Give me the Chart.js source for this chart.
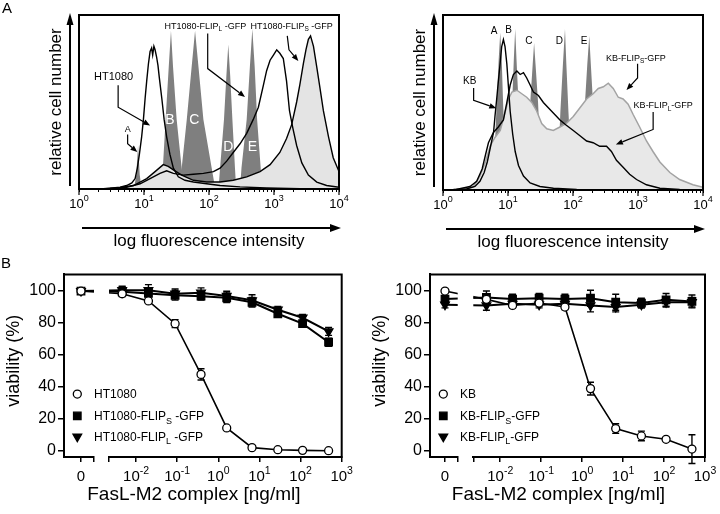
<!DOCTYPE html>
<html lang="en">
<head>
<meta charset="UTF-8">
<title>FLIP-GFP expression and FasL-M2 sensitivity</title>
<script src="https://cdn.jsdelivr.net/npm/chart.js"></script>
<style>
    body { margin: 0; padding: 0; background: #fff; }
    #fig { position: relative; width: 720px; height: 514px; overflow: hidden; font-family: "Liberation Sans", Arial, Helvetica, sans-serif; }
    #fig canvas { position: absolute; }
    .letter { position: absolute; font-size: 15px; line-height: 15px; color: #000; }
</style>
</head>
<body>
<div id="fig">
    <canvas id="histHT" width="360" height="260" style="left:0;top:0"></canvas>
    <canvas id="histKB" width="360" height="260" style="left:360px;top:0"></canvas>
    <canvas id="doseHT" width="360" height="254" style="left:0;top:260px"></canvas>
    <canvas id="doseKB" width="360" height="254" style="left:360px;top:260px"></canvas>
    <div class="letter" style="left:2px;top:0">A</div>
    <div class="letter" style="left:1px;top:255px">B</div>
</div>
<script>
const FONT = '"Liberation Sans", Arial, Helvetica, sans-serif';

// ---- histograms: [fluorescence, relative cell number] ----
const histTicks = [1, 10, 100, 1000, 10000];
const histExp = ['0', '1', '2', '3', '4'];

const htParent = [[2.1,0],[3,0.5],[4.3,1],[5.4,2],[6.5,3.5],[7.3,6],[7.9,12],[8.5,20],[9.2,30],[9.8,40],[10.4,52],[11,62],[11.7,72],[12.4,79],[13.1,81],[13.6,77],[14.2,82],[14.8,80],[15.6,76],[16.4,71],[17.2,64],[18.8,52],[20.4,40],[22.3,30],[25,20],[28.3,12],[33.7,7],[42.7,5],[57.5,4],[92,3],[148,2],[300,1.2],[770,0.6],[2500,0.2],[10000,0]];
const htFlipL = [[1.66,0],[3,0.3],[5.4,1],[8.7,3],[12.4,6],[17.6,9],[22.3,10.5],[28.3,9],[40.3,8],[57.5,8.5],[82,9],[117,10],[148,12],[187,16],[236,21],[300,26],[380,32],[480,40],[575,47],[690,60],[770,68],[870,74],[980,77],[1100,80],[1230,78],[1390,75],[1560,62],[1730,45],[1950,35],[2230,25],[2680,15],[3380,8],[4550,4],[6450,2],[10000,1]];
const htFlipS = [[2.1,0],[3.8,0.5],[6.9,2],[11,6],[14.8,10],[19.8,14],[23.6,13],[28.3,11],[38,8],[57.5,5],[92,4],[148,4],[236,5],[380,7],[610,10],[870,14],[1230,21],[1560,29],[1870,37],[2230,50],[2500,60],[2830,72],[3100,80],[3380,86],[3650,88],[4050,82],[4550,70],[5100,58],[5750,45],[6900,30],[8150,18],[10000,10]];
const htBeadA = [[7,0],[7.6,8],[8.1,25],[8.6,8],[9.2,0]];
const htBeadB = [[18.5,0],[19.5,12],[21.5,40],[24,70],[26,91],[28,70],[31.8,40],[38,12],[42,0]];
const htBeadC = [[36,0],[38,12],[45.5,40],[54,70],[61,91],[69,70],[82,40],[110,12],[125,0]];
const htBeadD = [[140,0],[148,12],[170,40],[185,65],[198,83],[212,65],[229,40],[251,12],[262,0]];
const htBeadE = [[300,0],[316,12],[380,40],[425,70],[464,92],[505,70],[550,40],[624,12],[650,0]];

const kbParent = [[1.45,0.3],[2.3,0.6],[3.1,2],[3.7,5],[4.3,10],[4.8,16],[5.4,25],[6,33],[6.3,42],[6.7,52],[7.1,62],[7.6,73],[8,82],[8.5,86],[9,82],[9.6,72],[10.2,58],[10.8,45],[11.8,32],[12.9,22],[14.5,14],[17.3,8],[21.9,4],[31,2],[50,1],[114,0.3],[10000,0]];
const kbFlipL = [[1.6,0.3],[2.6,2],[3.3,5],[4,12],[4.5,20],[5,27],[6,33],[7.1,36],[8.5,40],[9.6,50],[10.8,60],[12.1,66],[13.7,68],[15.4,66],[17.3,67],[19.4,64],[21.9,60],[24.6,56],[29.4,54],[35,50],[41.7,47],[49.8,44],[63,40],[79,37],[101,34],[128,31],[162,28],[204,27],[257,25],[328,25],[390,22],[466,17],[590,13],[744,9],[950,6],[1350,3],[2170,1],[4370,0.3],[10000,0]];
const kbFlipS = [[1.8,0.3],[2.95,2],[3.7,8],[4.5,16],[5.3,25],[6.3,30],[7.6,34],[9.1,45],[10.2,52],[11.5,56],[13.7,57],[16.3,55],[19.4,53],[23.2,50],[27.7,45],[33,38],[39.5,35],[49.8,34],[63,36],[79,38],[101,42],[128,47],[162,52],[204,55],[245,58],[293,59],[349,61],[416,58],[497,53],[590,52],[705,49],[846,43],[1060,36],[1350,28],[1700,22],[2170,16],[3090,10],[4370,6],[7000,3],[10000,1.5]];
const kbBeadA = [[5.6,0],[6.2,20],[6.7,50],[7.2,75],[7.6,90],[8,75],[8.4,50],[9,20],[9.8,0]];
const kbBeadB = [[10,0],[10.8,20],[11.6,50],[12.3,75],[12.9,92],[13.5,75],[14.5,50],[15.6,20],[17,0]];
const kbBeadC = [[19,0],[20.5,20],[22,50],[24,72],[25.2,84],[26.5,72],[29,50],[31.5,20],[34,0]];
const kbBeadD = [[56,0],[60,20],[64,45],[70,72],[75.3,92],[79,72],[85,45],[92,20],[100,0]];
const kbBeadE = [[130,0],[142,20],[153,50],[166,72],[178,88],[188,72],[203,50],[220,20],[240,0]];

// ---- viability: FasL-M2 complex [ng/ml] ----
const conc = [0.0046, 0.020, 0.089, 0.38, 1.6, 6.6, 28, 112, 480];
const doseTicks = [0.01, 0.1, 1, 10, 100, 1000];
const doseExp = ['-2', '-1', '0', '1', '2', '3'];

const htVia = [98.3, 93.8, 79.6, 47.9, 14.4, 2.1, 0.8, 0.4, 0.2];
const htErr = [1, 1, 2.5, 3.5, 1, 0.5, 0.5, 0.5, 0.5];
const htSVia = [99.5, 98.5, 97.3, 96.8, 95.8, 93, 85.8, 79.6, 68];
const htSErr = [3, 3, 3, 2.5, 3, 3, 2, 2, 2.5];
const htLVia = [100.5, 100.5, 98.3, 99, 96.9, 94.2, 88.3, 83.3, 74.8];
const htLErr = [2.5, 3.5, 3, 3, 3, 3.5, 2, 2, 2.5];
const htZero = [100, 100, 100];   // HT1080, FLIP_S, FLIP_L without ligand
const htZeroErr = [1, 1, 1];

const kbVia = [94.8, 91, 92.5, 90, 39, 14, 9.4, 7.3, 1.2];
const kbErr = [2, 1.5, 2, 1.5, 4, 3, 3, 1, 9];
const kbSVia = [96, 95, 95.5, 95, 95.5, 93, 92.5, 94.5, 93.5];
const kbSErr = [4, 3, 3, 3, 5, 5, 3, 4, 4];
const kbLVia = [91, 92, 91.5, 92, 91, 90, 91.5, 93, 93];
const kbLErr = [3, 2, 2, 2, 4, 3, 2, 3, 3];
const kbZero = [100, 95, 91.5];
const kbZeroErr = [1, 2, 2];

Chart.defaults.font.family = FONT;
Chart.defaults.color = '#000';

function runs(ctx, parts, x, y, align, color) {
    ctx.save();
    ctx.fillStyle = color || '#000';
    ctx.textAlign = 'left';
    ctx.textBaseline = 'alphabetic';
    let w = 0;
    parts.forEach(p => { ctx.font = p[1] + 'px ' + FONT; w += ctx.measureText(p[0]).width; });
    let cx = align === 'center' ? x - w / 2 : x;
    const base = y + parts[0][1] * 0.36;
    parts.forEach(p => {
        ctx.font = p[1] + 'px ' + FONT;
        ctx.fillText(p[0], cx, base + (p[2] || 0));
        cx += ctx.measureText(p[0]).width;
    });
    ctx.restore();
}

function arrow(ctx, pts, len, half, lw) {
    ctx.save();
    ctx.lineWidth = lw;
    ctx.strokeStyle = '#000';
    ctx.fillStyle = '#000';
    const n = pts.length;
    const [x1, y1] = pts[n - 2], [x2, y2] = pts[n - 1];
    const a = Math.atan2(y2 - y1, x2 - x1);
    const bx = x2 - len * Math.cos(a), by = y2 - len * Math.sin(a);
    ctx.beginPath();
    ctx.moveTo(pts[0][0], pts[0][1]);
    for (let i = 1; i < n - 1; i++) ctx.lineTo(pts[i][0], pts[i][1]);
    ctx.lineTo(bx, by);
    ctx.stroke();
    ctx.beginPath();
    ctx.moveTo(x2, y2);
    ctx.lineTo(bx + half * Math.sin(a), by - half * Math.cos(a));
    ctx.lineTo(bx - half * Math.sin(a), by + half * Math.cos(a));
    ctx.closePath();
    ctx.fill();
    ctx.restore();
}

function histDecor(labels, arrows) {
    return {
        id: 'histDecor',
        afterDraw(chart) {
            const ctx = chart.ctx, a = chart.chartArea, xs = chart.scales.x, ys = chart.scales.y;
            ctx.save();
            ctx.strokeStyle = '#000';
            ctx.lineWidth = 2;
            ctx.strokeRect(a.left, a.top, a.right - a.left, a.bottom - a.top);
            ctx.lineWidth = 1.2;
            histTicks.forEach((v, i) => {
                const x = xs.getPixelForValue(v);
                ctx.beginPath();
                ctx.moveTo(x, a.bottom);
                ctx.lineTo(x, a.bottom + 6);
                ctx.stroke();
                runs(ctx, [['10', 13], [histExp[i], 9, -6.5]], x, a.bottom + 14, 'center');
            });
            arrow(ctx, [[a.left - 9, a.bottom - 3], [a.left - 9, a.top - 2]], 12, 3.5, 2);
            arrow(ctx, [[a.left + 3, a.bottom + 39], [a.right + 2, a.bottom + 39]], 11, 4, 2);
            runs(ctx, [['log fluorescence intensity', 17]], (a.left + a.right) / 2, a.bottom + 51, 'center');
            ctx.translate(a.left - 24, (a.top + a.bottom) / 2);
            ctx.rotate(-Math.PI / 2);
            runs(ctx, [['relative cell number', 17]], 0, 0, 'center');
            ctx.restore();
            arrows.forEach(p => arrow(ctx, p.map(q => [xs.getPixelForValue(q[0]), ys.getPixelForValue(q[1])]), 7, 2.8, 1.2));
            labels.forEach(l => runs(ctx, l.runs, xs.getPixelForValue(l.at[0]), ys.getPixelForValue(l.at[1]), 'center', l.color));
        }
    };
}

function curve(points, color, fill, width) {
    return {
        data: points.map(p => ({ x: p[0], y: p[1] })),
        borderColor: color,
        borderWidth: width,
        backgroundColor: fill || 'transparent',
        fill: fill ? 'origin' : false,
        pointRadius: 0,
        tension: 0
    };
}

function histChart(id, datasets, pad, axisHeight, labels, arrows) {
    new Chart(document.getElementById(id), {
        type: 'line',
        data: { datasets: datasets },
        options: {
            responsive: false,
            animation: false,
            layout: { padding: pad },
            plugins: { legend: { display: false }, tooltip: { enabled: false } },
            scales: {
                x: {
                    type: 'logarithmic', min: 1, max: 10000,
                    afterBuildTicks: s => {
                        const t = [];
                        for (let e = 0; e < 4; e++) for (let m = 1; m < 10; m++) t.push({ value: m * Math.pow(10, e) });
                        t.push({ value: 10000 });
                        s.ticks = t;
                    },
                    afterFit: s => { s.height = axisHeight; },
                    grid: { drawOnChartArea: false, drawTicks: true, tickLength: 3, color: '#000', lineWidth: 1 },
                    border: { display: false },
                    ticks: { display: false, autoSkip: false }
                },
                y: { display: false, min: 0, max: 100 }
            }
        },
        plugins: [histDecor(labels, arrows)]
    });
}

const BEAD = '#7f7f7f';
const sub = (a, s, b) => [[a, 9], [s, 6.5, 2.5], [b, 9]];

histChart('histHT', [
    curve(htParent, '#000', null, 1.4),
    curve(htFlipL, '#000', null, 1.4),
    curve(htFlipS, '#000', '#e4e4e4', 1.4),
    curve(htBeadA, BEAD, BEAD, 0),
    curve(htBeadB, BEAD, BEAD, 0),
    curve(htBeadC, BEAD, BEAD, 0),
    curve(htBeadD, BEAD, BEAD, 0),
    curve(htBeadE, BEAD, BEAD, 0)
], { left: 79, right: 21, top: 15, bottom: 0 }, 71, [
    { runs: [['HT1080', 11]], at: [3.4, 65] },
    { runs: [['A', 9]], at: [5.6, 34.6] },
    { runs: sub('HT1080-FLIP', 'L', ' -GFP'), at: [88, 94] },
    { runs: sub('HT1080-FLIP', 'S', ' -GFP'), at: [1870, 94] },
    { runs: [['B', 14]], at: [25.1, 40.4], color: '#fff' },
    { runs: [['C', 14]], at: [59.5, 40.4], color: '#fff' },
    { runs: [['D', 14]], at: [199, 24.6], color: '#fff' },
    { runs: [['E', 14]], at: [465, 24.6], color: '#fff' }
], [
    [[4.0, 59.6], [4.0, 47], [12.4, 36.5]],
    [[5.6, 31.3], [5.6, 26], [7.9, 21.2]],
    [[95.5, 89.4], [95.5, 69.2], [358, 52.9]],
    [[1600, 88], [1700, 80], [2370, 73.5]]
]);

histChart('histKB', [
    curve(kbParent, '#000', null, 1.4),
    curve(kbFlipL, '#000', null, 1.4),
    curve(kbFlipS, '#a3a3a3', '#e8e8e8', 1.5),
    curve(kbBeadA, BEAD, BEAD, 0),
    curve(kbBeadB, BEAD, BEAD, 0),
    curve(kbBeadC, BEAD, BEAD, 0),
    curve(kbBeadD, BEAD, BEAD, 0),
    curve(kbBeadE, BEAD, BEAD, 0)
], { left: 83, right: 17, top: 15, bottom: 0 }, 70, [
    { runs: [['A', 10]], at: [6.1, 91] },
    { runs: [['B', 10]], at: [10.2, 91.7] },
    { runs: [['C', 10]], at: [21, 85.6] },
    { runs: [['D', 10]], at: [61.7, 85.6] },
    { runs: [['E', 10]], at: [148, 85.6] },
    { runs: [['KB', 10]], at: [2.57, 62.5] },
    { runs: sub('KB-FLIP', 'S', '-GFP'), at: [930, 75.6] },
    { runs: sub('KB-FLIP', 'L', '-GFP'), at: [2440, 48.7] }
], [
    [[2.96, 58.3], [2.96, 51.3], [6.6, 46.7]],
    [[985, 72.1], [985, 64], [665, 57.1]],
    [[1710, 44.6], [1710, 34.6], [457, 26]]
]);

// ---- viability panels ----
const MARK = {
    circle: { pointStyle: 'circle', radius: 4, rotation: 0, fill: '#fff' },
    square: { pointStyle: 'rect', radius: 5.3, rotation: 0, fill: '#000' },
    triangle: { pointStyle: 'triangle', radius: 5, rotation: 180, fill: '#000' }
};

function drawMark(ctx, m, x, y) {
    ctx.save();
    ctx.fillStyle = m.fill;
    ctx.strokeStyle = '#000';
    ctx.lineWidth = 1.3;
    ctx.beginPath();
    if (m.pointStyle === 'circle') {
        ctx.arc(x, y, m.radius, 0, Math.PI * 2);
    } else if (m.pointStyle === 'rect') {
        const s = m.radius * Math.SQRT1_2;
        ctx.rect(x - s, y - s, 2 * s, 2 * s);
    } else {
        const r = m.radius;
        ctx.moveTo(x, y + r);
        ctx.lineTo(x - r * 0.866, y - r * 0.5);
        ctx.lineTo(x + r * 0.866, y - r * 0.5);
        ctx.closePath();
    }
    ctx.fill();
    ctx.stroke();
    ctx.restore();
}

function doseDecor(series, legendY) {
    return {
        id: 'doseDecor',
        beforeDatasetsDraw(chart) {
            const ctx = chart.ctx, a = chart.chartArea, xs = chart.scales.x, xz = chart.scales.xz, ys = chart.scales.y;
            ctx.save();
            ctx.strokeStyle = '#000';
            series.forEach(s => {
                // 0 ng/ml joined to the first dilution, hidden across the axis break
                const p0 = [xz.getPixelForValue(0), ys.getPixelForValue(s.zero)];
                const p1 = [xs.getPixelForValue(conc[0]), ys.getPixelForValue(s.vals[0])];
                ctx.save();
                ctx.beginPath();
                ctx.rect(a.left, a.top, xz.right - a.left, a.bottom - a.top);
                ctx.rect(xs.left, a.top, p1[0] - xs.left, a.bottom - a.top);
                ctx.clip();
                ctx.lineWidth = s.width;
                ctx.beginPath();
                ctx.moveTo(p0[0], p0[1]);
                ctx.lineTo(p1[0], p1[1]);
                ctx.stroke();
                ctx.restore();

                ctx.lineWidth = 1.4;
                const bars = conc.map((c, i) => [xs.getPixelForValue(c), s.vals[i], s.errs[i]]);
                bars.push([p0[0], s.zero, s.zeroErr]);
                bars.forEach(([x, v, e]) => {
                    const t = ys.getPixelForValue(v + e), b = ys.getPixelForValue(v - e);
                    ctx.beginPath();
                    ctx.moveTo(x, t); ctx.lineTo(x, b);
                    ctx.moveTo(x - 3.5, t); ctx.lineTo(x + 3.5, t);
                    ctx.moveTo(x - 3.5, b); ctx.lineTo(x + 3.5, b);
                    ctx.stroke();
                });
            });
            ctx.restore();
        },
        afterDraw(chart) {
            const ctx = chart.ctx, a = chart.chartArea, xs = chart.scales.x, xz = chart.scales.xz, ys = chart.scales.y;
            ctx.save();
            ctx.strokeStyle = '#000';
            ctx.lineWidth = 2;
            ctx.beginPath();
            ctx.moveTo(a.left - 1, a.top);
            ctx.lineTo(a.right, a.top);
            ctx.lineTo(a.right, a.bottom + 1);
            ctx.stroke();
            runs(ctx, [['0', 15]], xz.getPixelForValue(0), a.bottom + 19, 'center');
            doseTicks.forEach((v, i) => {
                runs(ctx, [['10', 15], [doseExp[i], 10.5, -7.5]], xs.getPixelForValue(v), a.bottom + 19, 'center');
            });
            runs(ctx, [['FasL-M2 complex [ng/ml]', 19]], (a.left + a.right) / 2 - 9, a.bottom + 36, 'center');
            series.forEach((s, i) => {
                const y = ys.getPixelForValue(legendY[i]);
                drawMark(ctx, MARK[s.mark], a.left + 13.3, y);
                runs(ctx, s.legend, a.left + 30, y, 'left');
            });
            ctx.translate(a.left - 51, (a.top + a.bottom) / 2 - 5);
            ctx.rotate(-Math.PI / 2);
            runs(ctx, [['viability (%)', 18]], 0, 0, 'center');
            ctx.restore();
        }
    };
}

function doseChart(id, series, yWidth, padRight, weights, zMax) {
    const datasets = [];
    series.forEach((s, i) => {
        const m = MARK[s.mark];
        const style = {
            borderColor: '#000', borderWidth: s.width,
            pointStyle: m.pointStyle, pointRadius: m.radius, pointRotation: m.rotation,
            pointBackgroundColor: m.fill, pointBorderColor: '#000', pointBorderWidth: 1.3,
            order: i, tension: 0
        };
        datasets.push(Object.assign({ xAxisID: 'x', data: conc.map((c, j) => ({ x: c, y: s.vals[j] })) }, style));
        datasets.push(Object.assign({ xAxisID: 'xz', showLine: false, data: [{ x: 0, y: s.zero }] }, style));
    });
    const bottomAxis = {
        position: 'bottom', stack: 'dose',
        afterFit: s => { s.height = 57; },
        ticks: { display: false, autoSkip: false },
        grid: { drawOnChartArea: false, drawTicks: true, tickLength: 5, color: '#000', lineWidth: 1.5 },
        border: { display: true, color: '#000', width: 2 }
    };
    new Chart(document.getElementById(id), {
        type: 'line',
        data: { datasets: datasets },
        options: {
            responsive: false,
            animation: false,
            layout: { padding: { left: 0, right: padRight, top: 14.4, bottom: 0 } },
            plugins: { legend: { display: false }, tooltip: { enabled: false } },
            scales: {
                xz: Object.assign({}, bottomAxis, {
                    type: 'linear', min: -1, max: zMax, weight: 0, stackWeight: weights[0],
                    afterBuildTicks: s => { s.ticks = [{ value: 0 }, { value: zMax }]; }
                }),
                xg: Object.assign({}, bottomAxis, {
                    type: 'linear', min: 0, max: 1, weight: 1, stackWeight: weights[1],
                    grid: { display: false }, border: { display: false }
                }),
                x: Object.assign({}, bottomAxis, {
                    type: 'logarithmic', min: 0.0022, max: 1000, weight: 2, stackWeight: weights[2],
                    afterBuildTicks: s => { s.ticks = [0.0022].concat(doseTicks).map(v => ({ value: v })); }
                }),
                y: {
                    type: 'linear', position: 'left', min: -3.75, max: 110.4,
                    afterBuildTicks: s => { s.ticks = [0, 20, 40, 60, 80, 100].map(v => ({ value: v })); },
                    afterFit: s => { s.width = yWidth; },
                    ticks: { font: { size: 16 }, color: '#000', padding: 2 },
                    grid: { drawOnChartArea: false, drawTicks: true, tickLength: 6, color: '#000', lineWidth: 1.5 },
                    border: { display: true, color: '#000', width: 2 }
                }
            }
        },
        plugins: [doseDecor(series, [35.6, 21.9, 9])]
    });
}

doseChart('doseHT', [
    { mark: 'circle', vals: htVia, errs: htErr, zero: htZero[0], zeroErr: htZeroErr[0], width: 1.6, legend: [['HT1080', 12]] },
    { mark: 'square', vals: htSVia, errs: htSErr, zero: htZero[1], zeroErr: htZeroErr[1], width: 2, legend: [['HT1080-FLIP', 12], ['S', 9, 3.5], [' -GFP', 12]] },
    { mark: 'triangle', vals: htLVia, errs: htLErr, zero: htZero[2], zeroErr: htZeroErr[2], width: 2, legend: [['HT1080-FLIP', 12], ['L', 9, 3.5], [' -GFP', 12]] }
], 64, 18.3, [30, 15, 232.7], 0.765);

doseChart('doseKB', [
    { mark: 'circle', vals: kbVia, errs: kbErr, zero: kbZero[0], zeroErr: kbZeroErr[0], width: 1.6, legend: [['KB', 12]] },
    { mark: 'square', vals: kbSVia, errs: kbSErr, zero: kbZero[1], zeroErr: kbZeroErr[1], width: 2, legend: [['KB-FLIP', 12], ['S', 9, 3.5], ['-GFP', 12]] },
    { mark: 'triangle', vals: kbLVia, errs: kbLErr, zero: kbZero[2], zeroErr: kbZeroErr[2], width: 2, legend: [['KB-FLIP', 12], ['L', 9, 3.5], ['-GFP', 12]] }
], 70, 15, [27.7, 15.6, 231.7], 0.847);
</script>
</body>
</html>
